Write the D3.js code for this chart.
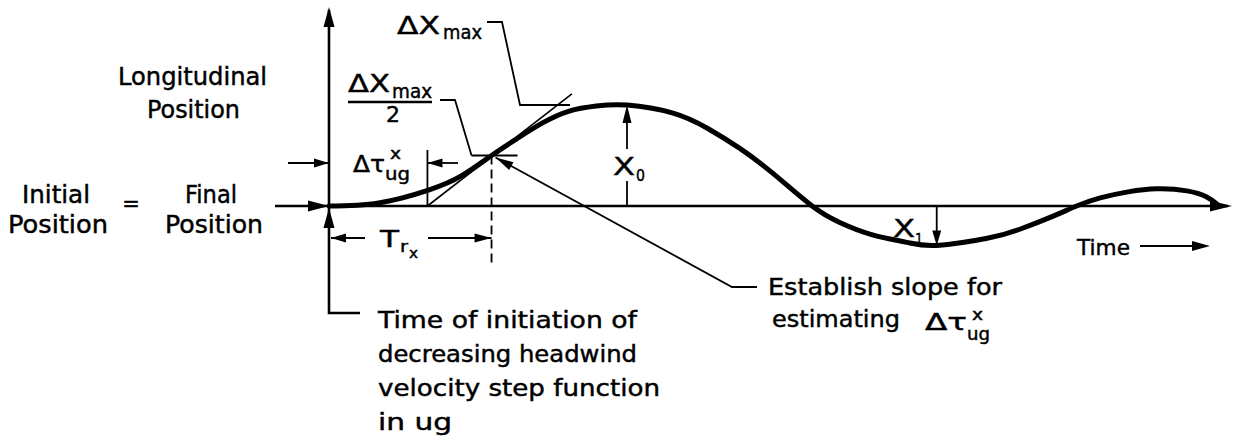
<!DOCTYPE html>
<html>
<head>
<meta charset="utf-8">
<script src="https://cdn.jsdelivr.net/npm/d3@7"></script>
<style>
  html, body { margin: 0; padding: 0; background: #fff; }
  svg { display: block; }
  text { font-family: "DejaVu Sans", sans-serif; fill: #000; stroke: #000; stroke-width: 0.45px; }
</style>
</head>
<body>
<svg id="chart" width="1239" height="439"></svg>
<script>
// Longitudinal position response to a decreasing headwind step (schematic)
const timePts     = [0, 5.5, 11.1, 14.7, 18.0, 20.7, 23.6, 26.6, 29.6, 33.0, 38.1, 41.9, 45.5, 49.2, 53.5, 56.5, 60.0, 64.0, 67.3, 72.9, 76.5, 80.2, 82.8, 85.4, 88.5, 91.7, 95.0, 97.2, 98.3];
const positionPts = [0, 0.03, 0.16, 0.30, 0.50, 0.66, 0.82, 0.94, 0.99, 1.00, 0.92, 0.77, 0.57, 0.32, 0, -0.16, -0.28, -0.36, -0.39, -0.32, -0.23, -0.10, 0, 0.08, 0.14, 0.17, 0.15, 0.09, 0.02];

// characteristic points
const peakT = 33.0, peakX = 1.00;       // X0
const troughT = 67.3, troughX = -0.39;  // X1
const halfT = 18.0, halfX = 0.50;       // ΔXmax / 2
const tangentT = [10.9, 26.9];          // slope construction line
const tangentX = [0, 1.11];

const svg = d3.select("#chart");
const W = 1239, H = 439;
svg.append("rect").attr("width", W).attr("height", H).attr("fill", "#fff");

const x = d3.scaleLinear().domain([0, 100]).range([329, 1232]);
const y = d3.scaleLinear().domain([0, 1]).range([206, 105]);

const g = svg.append("g");

function arrowHead(tx, ty, angleDeg, len = 18, hw = 5) {
  const a = angleDeg * Math.PI / 180;
  const bx = tx - len * Math.cos(a), by = ty - len * Math.sin(a);
  const px = -Math.sin(a) * hw, py = Math.cos(a) * hw;
  g.append("path")
    .attr("d", `M${tx},${ty}L${bx + px},${by + py}L${bx - px},${by - py}Z`)
    .attr("fill", "#000");
}
function poly(pts, sw = 1.8, dash = null) {
  const p = g.append("path")
    .attr("d", d3.line()(pts))
    .attr("fill", "none").attr("stroke", "#000")
    .attr("stroke-width", sw).attr("stroke-linejoin", "miter");
  if (dash) p.attr("stroke-dasharray", dash);
  return p;
}
// text placed by its left edge; optional fitted width
function label(str, tx, ty, size = 23, len = null) {
  const t = g.append("text").attr("x", tx).attr("y", ty)
    .attr("font-size", size).text(str);
  if (len) t.attr("textLength", len).attr("lengthAdjust", "spacingAndGlyphs");
  return t;
}

const x0 = x(0), yb = y(0);

// vertical (position) axis
poly([[x0, 10], [x0, 313], [360, 313]], 2.6);
arrowHead(x0, 7, -90, 20, 5.5);
arrowHead(x0, yb + 2, -90, 20, 5.5);

// time axis (baseline)
poly([[275, yb], [x(100) - 4, yb]], 2.4);
arrowHead(x0, yb, 0, 21, 5.5);
arrowHead(x(100), yb, 0, 22, 5.5);

// slope construction line
poly(d3.zip(tangentT.map(x), tangentX.map(y)), 1.6);

// response curve
g.append("path")
  .datum(d3.zip(timePts, positionPts))
  .attr("d", d3.line().x(d => x(d[0])).y(d => y(d[1])).curve(d3.curveNatural))
  .attr("fill", "none").attr("stroke", "#000")
  .attr("stroke-width", 5).attr("stroke-linecap", "round");

// Δτ delay marks
const xt = x(tangentT[0]);
poly([[xt, 150], [xt, yb]], 1.8);
poly([[288, 163], [x0, 163]], 1.8);
arrowHead(x0, 163, 0, 15, 4.5);
poly([[xt, 163], [458, 163]], 1.8);
arrowHead(xt, 163, 180, 15, 4.5);

// half-amplitude point and rise time
const xh = x(halfT), yh = y(halfX);
poly([[xh - 20, yh], [xh + 26, yh]], 1.8);
poly([[xh, yh], [xh, 263]], 1.8, "9,5");
poly([[x0 + 2, 238], [365, 238]], 1.8);
arrowHead(x0 + 2, 238, 180, 15, 4.5);
poly([[428, 238], [xh, 238]], 1.8);
arrowHead(xh, 238, 0, 17, 4.5);

// ΔXmax/2 leader
poly([[440, 100], [455, 100], [xh - 20, yh]], 1.8);
// ΔXmax leader
poly([[487, 22], [502, 22], [520, y(peakX)], [570, y(peakX)]], 1.8);

// "Establish slope" leader
const tip = [xh + 4, yh + 2], elbow = [732, 287];
poly([tip, elbow, [757, 287]], 1.8);
arrowHead(tip[0], tip[1], Math.atan2(tip[1] - elbow[1], tip[0] - elbow[0]) * 180 / Math.PI, 18, 4.5);

// X0 amplitude
const xp = x(peakT);
poly([[xp, yb], [xp, 181]], 1.8);
poly([[xp, 149], [xp, y(peakX) + 10]], 1.8);
arrowHead(xp, y(peakX), -90, 18, 4.5);
label("X", 613, 175, 24, 22);
label("0", 636, 181, 16, 9);

// X1 amplitude
const xtr = x(troughT);
poly([[xtr, yb], [xtr, y(troughX) - 8]], 1.8);
arrowHead(xtr, y(troughX), 90, 15, 4.5);
label("X", 893, 237, 24, 22);
label("1", 915, 245, 16, 8);

// axis captions
label("Longitudinal", 118, 85, 24, 149);
label("Position", 147, 118, 24, 93);
label("Initial", 22, 203, 24, 68);
label("Position", 8, 233, 24, 100);
g.append("text").attr("x", 131).attr("y", 211).attr("font-size", 21)
  .attr("text-anchor", "middle").text("=");
label("Final", 185, 203, 24, 52);
label("Position", 165, 233, 24, 98);

label("Time", 1077, 255, 22, 53);
poly([[1140, 246], [1195, 246]], 2);
arrowHead(1210, 246, 0, 18, 5);

// ΔXmax
label("ΔX", 397, 34, 25, 43);
label("max", 443, 39, 19, 39);
// ΔXmax / 2
label("ΔX", 348, 92, 25, 42);
label("max", 392, 98, 19, 40);
poly([[348, 102], [432, 102]], 2.4);
g.append("text").attr("x", 393).attr("y", 122).attr("font-size", 22)
  .attr("text-anchor", "middle").text("2");

// Δτ near the axis
label("Δτ", 353, 172, 23, 32);
label("x", 390, 159, 15, 11);
label("ug", 385, 180, 17, 25);

// T_rx
label("T", 380, 247, 23, 19);
label("r", 400, 252, 16, 8);
label("x", 409, 258, 14, 9);

// slope note
label("Establish  slope  for", 768, 295, 23, 234);
label("estimating", 772, 327, 23, 128);
label("Δτ", 925, 330, 23, 42);
label("x", 972, 320, 15, 11);
label("ug", 967, 340, 17, 23);

// initiation note
label("Time  of  initiation  of", 378, 328, 23, 259);
label("decreasing  headwind", 378, 362, 23, 259);
label("velocity  step  function", 378, 396, 23, 282);
label("in  ug", 378, 430, 23, 74);
</script>
</body>
</html>
